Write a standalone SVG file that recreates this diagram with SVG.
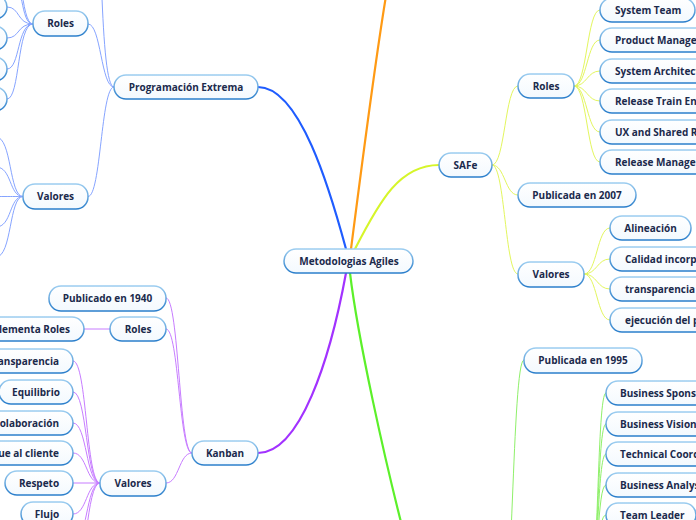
<svg xmlns="http://www.w3.org/2000/svg" width="696" height="520" viewBox="0 0 696 520">
<defs>
<linearGradient id="st" x1="0" y1="0" x2="0" y2="1"><stop offset="0" stop-color="#9ccdf0"/><stop offset="1" stop-color="#2a7ecb"/></linearGradient>
<linearGradient id="fl" x1="0" y1="0" x2="0" y2="1"><stop offset="0" stop-color="#ffffff"/><stop offset="1" stop-color="#f3f9fe"/></linearGradient>
<style>
.n rect{fill:url(#fl);stroke:url(#st);stroke-width:1.5}
.n text{font-family:"Open Sans","Noto Sans","Liberation Sans",sans-serif;font-weight:bold;font-size:10px;fill:#1b2a4c}
.c{text-anchor:middle}
.e{text-anchor:end}
.s{text-anchor:start}
.m{fill:none;stroke-width:2.2;stroke-linecap:round}
.t{fill:none;stroke-width:1}
.b{stroke:#86a4ff}
.y{stroke:#e3f65e}
.p{stroke:#c77cff}
.g{stroke:#8ff06a}
</style>
</defs>
<g id="connectors">
<path class="m" stroke="#1f5cff" d="M346,249 C330,190 300,87 258,87"/>
<path class="m" stroke="#ff9a14" d="M351,249 C360,180 375,60 387,-10"/>
<path class="m" stroke="#d6f52a" d="M355,249 C380,200 400,165 439,165"/>
<path class="m" stroke="#a232ff" d="M346,273 C330,360 300,453 258,453"/>
<path class="m" stroke="#5cf02a" d="M350,273 C358,340 385,460 403,530"/>
<path class="t b" d="M114,87 C101,87 101,24 88,24"/>
<path class="t b" d="M114,87 C100,87 101,-80 96,-200"/>
<path class="t b" d="M114,87 C101,87 101,196.5 88,196.5"/>
<path class="t b" d="M33,24 C17,24 20,7 7,7"/>
<path class="t b" d="M33,24 C17,24 20,38 7,38"/>
<path class="t b" d="M33,24 C17,24 20,69 7,69"/>
<path class="t b" d="M33,24 C17,24 20,99 7,99"/>
<path class="t b" d="M33,24 C20,24 24,-20 10,-24"/>
<path class="t b" d="M33,24 C20,24 22,-50 10,-55"/>
<path class="t b" d="M23,196.5 C9,196.5 12,137 -4,137"/>
<path class="t b" d="M23,196.5 C9,196.5 12,167 -4,167"/>
<path class="t b" d="M23,196.5 C9,196.5 12,196.5 -4,196.5"/>
<path class="t b" d="M23,196.5 C9,196.5 12,227 -4,227"/>
<path class="t b" d="M23,196.5 C9,196.5 12,257 -4,257"/>
<path class="t y" d="M492,165 C505,165 505,86 518,86"/>
<path class="t y" d="M492,165 C505,165 505,195 518,195"/>
<path class="t y" d="M492,165 C505,165 505,274 518,274"/>
<path class="t y" d="M574,86 C587,86 587,10 600,10"/>
<path class="t y" d="M574,86 C587,86 587,40 600,40"/>
<path class="t y" d="M574,86 C587,86 587,71 600,71"/>
<path class="t y" d="M574,86 C587,86 587,101 600,101"/>
<path class="t y" d="M574,86 C587,86 587,132 600,132"/>
<path class="t y" d="M574,86 C587,86 587,162 600,162"/>
<path class="t y" d="M584,274 C597,274 597,228 610,228"/>
<path class="t y" d="M584,274 C597,274 597,259 610,259"/>
<path class="t y" d="M584,274 C597,274 597,289 610,289"/>
<path class="t y" d="M584,274 C597,274 597,320 610,320"/>
<path class="t p" d="M192,453 C179,453 179,298 166,298"/>
<path class="t p" d="M192,453 C179,453 179,329 166,329"/>
<path class="t p" d="M192,453 C179,453 179,483 166,483"/>
<path class="t p" d="M110,329 L84,329"/>
<path class="t p" d="M100,483 C86,483 87,361 73,361"/>
<path class="t p" d="M100,483 C86,483 87,392 73,392"/>
<path class="t p" d="M100,483 C86,483 87,423 73,423"/>
<path class="t p" d="M100,483 C86,483 87,453 73,453"/>
<path class="t p" d="M100,483 L73,483"/>
<path class="t p" d="M100,483 C86,483 87,514 73,514"/>
<path class="t p" d="M100,483 C86,483 87,545 73,545"/>
<path class="t p" d="M100,483 C86,483 87,576 73,576"/>
<path class="t g" d="M500,640 C513,640 512,360 524,360"/>
<path class="t g" d="M590,580 C599,580 597,393 606,393"/>
<path class="t g" d="M590,580 C599,580 597,424 606,424"/>
<path class="t g" d="M590,580 C599,580 597,454 606,454"/>
<path class="t g" d="M590,580 C599,580 597,485 606,485"/>
<path class="t g" d="M590,580 C599,580 597,515 606,515"/>
</g>
<g id="n-center" class="n"><rect x="284" y="249" width="129" height="24" rx="12"/><text class="c" x="349" y="264.5">Metodologias Agiles</text></g>
<g id="n-xp" class="n"><rect x="114" y="75" width="144" height="24" rx="12"/><text class="c" x="186" y="90.5">Programación Extrema</text></g>
<g id="n-xp-roles" class="n"><rect x="33" y="11" width="55" height="25" rx="12"/><text class="c" x="60.5" y="27">Roles</text></g>
<g id="n-xp-r1" class="n"><rect x="-80" y="-5" width="87" height="24" rx="12"/></g>
<g id="n-xp-r2" class="n"><rect x="-80" y="26" width="87" height="24" rx="12"/></g>
<g id="n-xp-r3" class="n"><rect x="-80" y="57" width="87" height="24" rx="12"/></g>
<g id="n-xp-r4" class="n"><rect x="-80" y="87" width="87" height="24" rx="12"/></g>
<g id="n-xp-valores" class="n"><rect x="23" y="184" width="65" height="25" rx="12"/><text class="c" x="55.5" y="200">Valores</text></g>
<g id="n-kanban" class="n"><rect x="192" y="441" width="66" height="24" rx="12"/><text class="c" x="225" y="456.5">Kanban</text></g>
<g id="n-k-pub" class="n"><rect x="49" y="286" width="117" height="25" rx="12"/><text class="c" x="107.5" y="302">Publicado en 1940</text></g>
<g id="n-k-roles" class="n"><rect x="110" y="317" width="56" height="24" rx="12"/><text class="c" x="138" y="332.5">Roles</text></g>
<g id="n-k-impl" class="n"><rect x="-36" y="317" width="120" height="24" rx="12"/><text class="e" x="70" y="332.5">Implementa Roles</text></g>
<g id="n-k-valores" class="n"><rect x="100" y="471" width="66" height="25" rx="12"/><text class="c" x="133" y="487">Valores</text></g>
<g id="n-k-v1" class="n"><rect x="-40" y="349" width="113" height="24" rx="12"/><text class="e" x="59" y="364.5">Transparencia</text></g>
<g id="n-k-v2" class="n"><rect x="-1" y="380" width="74" height="24" rx="12"/><text class="c" x="36" y="395.5">Equilibrio</text></g>
<g id="n-k-v3" class="n"><rect x="-40" y="411" width="113" height="24" rx="12"/><text class="e" x="59" y="426.5">Colaboración</text></g>
<g id="n-k-v4" class="n"><rect x="-60" y="441" width="133" height="24" rx="12"/><text class="e" x="59" y="456.5">Enfoque al cliente</text></g>
<g id="n-k-v5" class="n"><rect x="5" y="471" width="68" height="24" rx="12"/><text class="c" x="39" y="486.5">Respeto</text></g>
<g id="n-k-v6" class="n"><rect x="21" y="502" width="52" height="24" rx="12"/><text class="c" x="47" y="517.5">Flujo</text></g>
<g id="n-safe" class="n"><rect x="439" y="153" width="53" height="24" rx="12"/><text class="c" x="465.5" y="168.5">SAFe</text></g>
<g id="n-safe-roles" class="n"><rect x="518" y="74" width="56" height="24" rx="12"/><text class="c" x="546" y="89.5">Roles</text></g>
<g id="n-s-r1" class="n"><rect x="600" y="-2" width="95" height="24" rx="12"/><text class="s" x="615" y="13.5">System Team</text></g>
<g id="n-s-r2" class="n"><rect x="600" y="28" width="140" height="24" rx="12"/><text class="s" x="615" y="43.5">Product Management</text></g>
<g id="n-s-r3" class="n"><rect x="600" y="59" width="170" height="24" rx="12"/><text class="s" x="615" y="74.5">System Architect/Engineering</text></g>
<g id="n-s-r4" class="n"><rect x="600" y="89" width="150" height="24" rx="12"/><text class="s" x="615" y="104.5">Release Train Engineer</text></g>
<g id="n-s-r5" class="n"><rect x="600" y="120" width="160" height="24" rx="12"/><text class="s" x="615" y="135.5">UX and Shared Resources</text></g>
<g id="n-s-r6" class="n"><rect x="600" y="150" width="140" height="24" rx="12"/><text class="s" x="615" y="165.5">Release Management</text></g>
<g id="n-safe-pub" class="n"><rect x="518" y="183" width="118" height="24" rx="12"/><text class="c" x="577" y="198.5">Publicada en 2007</text></g>
<g id="n-safe-valores" class="n"><rect x="518" y="262" width="66" height="25" rx="12"/><text class="c" x="551" y="278">Valores</text></g>
<g id="n-s-v1" class="n"><rect x="610" y="216" width="81" height="24" rx="12"/><text class="c" x="650.5" y="231.5">Alineación</text></g>
<g id="n-s-v2" class="n"><rect x="610" y="247" width="140" height="24" rx="12"/><text class="s" x="625" y="262.5">Calidad incorporada</text></g>
<g id="n-s-v3" class="n"><rect x="610" y="277" width="98" height="24" rx="12"/><text class="s" x="625" y="292.5">transparencia</text></g>
<g id="n-s-v4" class="n"><rect x="610" y="308" width="150" height="24" rx="12"/><text class="s" x="625" y="323.5">ejecución del programa</text></g>
<g id="n-dsdm-pub" class="n"><rect x="524" y="348" width="118" height="25" rx="12"/><text class="c" x="583" y="364">Publicada en 1995</text></g>
<g id="n-d-r1" class="n"><rect x="606" y="381" width="130" height="24" rx="12"/><text class="s" x="620" y="396.5">Business Sponsor</text></g>
<g id="n-d-r2" class="n"><rect x="606" y="412" width="140" height="24" rx="12"/><text class="s" x="620" y="427.5">Business Visionary</text></g>
<g id="n-d-r3" class="n"><rect x="606" y="442" width="150" height="24" rx="12"/><text class="s" x="620" y="457.5">Technical Coordinator</text></g>
<g id="n-d-r4" class="n"><rect x="606" y="473" width="125" height="24" rx="12"/><text class="s" x="620" y="488.5">Business Analyst</text></g>
<g id="n-d-r5" class="n"><rect x="606" y="503" width="90" height="24" rx="12"/><text class="s" x="620" y="518.5">Team Leader</text></g>
</svg>
